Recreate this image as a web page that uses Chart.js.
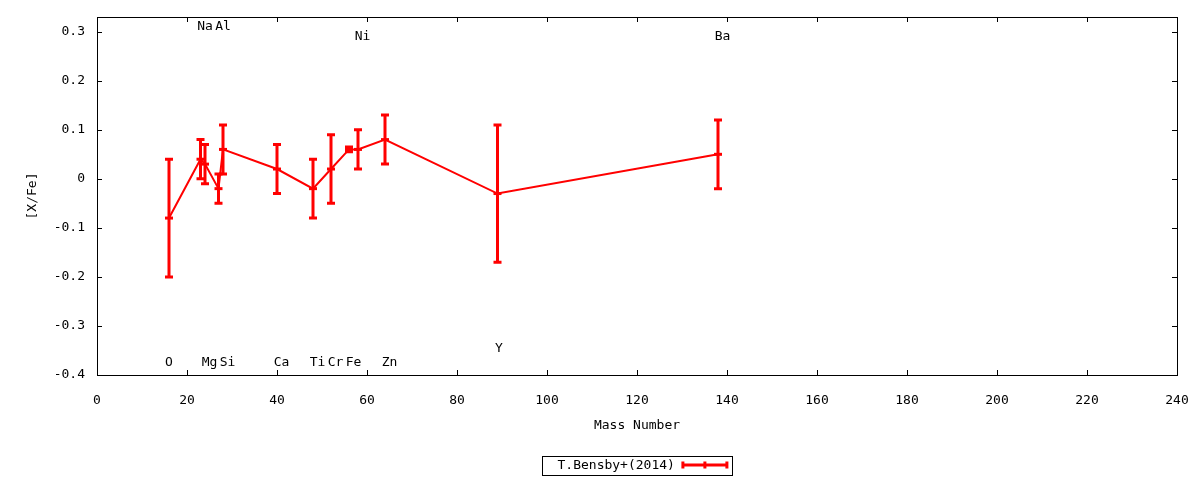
<!DOCTYPE html>
<html>
<head>
<meta charset="utf-8">
<script src="https://cdn.jsdelivr.net/npm/chart.js@4.4.1/dist/chart.umd.min.js"></script>
<style>
  html, body { margin: 0; padding: 0; background: #fff; }
  #wrap { width: 1200px; height: 480px; }
</style>
</head>
<body>
<div id="wrap"><canvas id="chart" width="1200" height="480"></canvas></div>
<script>
// mass number, [X/Fe] and its error for each element
const elements = ["O", "Na", "Mg", "Al", "Si", "Ca", "Ti", "Cr", "Fe", "Ni", "Zn", "Y", "Ba"];
const massNumbers = [16, 23, 24, 27, 28, 40, 48, 52, 56, 58, 64, 89, 138];
const xFe = [-0.08, 0.04, 0.03, -0.02, 0.06, 0.02, -0.02, 0.02, 0.06, 0.06, 0.08, -0.03, 0.05];
const xFeErr = [0.12, 0.04, 0.04, 0.03, 0.05, 0.05, 0.06, 0.07, 0.005, 0.04, 0.05, 0.14, 0.07];

// element name labels (data coordinates, as in the original plot)
const labelX = [16, 24, 25, 28, 29, 41, 49, 53, 57, 59, 65, 89.3, 139];
const labelY = [-0.375, 0.31, -0.375, 0.31, -0.375, -0.375, -0.375, -0.375, -0.375, 0.29, -0.375, -0.347, 0.29];

const xTicks = [0, 20, 40, 60, 80, 100, 120, 140, 160, 180, 200, 220, 240];
const yTicks = [-0.4, -0.3, -0.2, -0.1, 0, 0.1, 0.2, 0.3];

const seriesLabel = "T.Bensby+(2014)";
const RED = "#ff0000";
const FONT = "DejaVu Sans Mono";

// cadre + graduations vers l'intérieur, barres d'erreur, étiquettes, légende
const gnuplotLook = {
  id: "gnuplotLook",
  beforeDatasetsDraw(chart) {
    const { ctx, scales: { x, y } } = chart;
    ctx.save();
    ctx.strokeStyle = RED;
    ctx.lineWidth = 3;
    massNumbers.forEach((m, i) => {
      const px = x.getPixelForValue(m);
      const top = y.getPixelForValue(xFe[i] + xFeErr[i]);
      const bot = y.getPixelForValue(xFe[i] - xFeErr[i]);
      ctx.beginPath();
      ctx.moveTo(px, top);
      ctx.lineTo(px, bot);
      ctx.moveTo(px - 4, top);
      ctx.lineTo(px + 4, top);
      ctx.moveTo(px - 4, bot);
      ctx.lineTo(px + 4, bot);
      ctx.stroke();
    });
    ctx.restore();
  },
  afterDraw(chart) {
    const { ctx, chartArea: a, scales: { x, y } } = chart;
    ctx.save();
    // frame
    ctx.strokeStyle = "#000";
    ctx.lineWidth = 1;
    ctx.strokeRect(Math.round(a.left) + 0.5, Math.round(a.top) + 0.5,
      Math.round(a.right - a.left), Math.round(a.bottom - a.top));
    // ticks, mirrored
    ctx.beginPath();
    xTicks.forEach(v => {
      const px = Math.round(x.getPixelForValue(v)) + 0.5;
      ctx.moveTo(px, a.bottom); ctx.lineTo(px, a.bottom - 5);
      ctx.moveTo(px, a.top); ctx.lineTo(px, a.top + 5);
    });
    yTicks.forEach(v => {
      const py = Math.round(y.getPixelForValue(v)) + 0.5;
      ctx.moveTo(a.left, py); ctx.lineTo(a.left + 5, py);
      ctx.moveTo(a.right, py); ctx.lineTo(a.right - 5, py);
    });
    ctx.stroke();

    // element labels
    ctx.fillStyle = "#000";
    ctx.font = "13px '" + FONT + "'";
    ctx.textAlign = "center";
    ctx.textBaseline = "middle";
    elements.forEach((el, i) => {
      ctx.fillText(el, x.getPixelForValue(labelX[i]), y.getPixelForValue(labelY[i]));
    });

    // legend box
    const textW = ctx.measureText(seriesLabel).width;
    const sampleW = 44;
    const boxW = 15 + textW + 8 + sampleW + 6;
    const cx = (a.left + a.right) / 2;
    const bx = Math.round(cx - boxW / 2) + 0.5;
    const by = 456.5;
    ctx.strokeRect(bx, by, Math.round(boxW), 19);
    ctx.textAlign = "left";
    ctx.fillText(seriesLabel, bx + 15, by + 9.5);
    const sx = bx + 15 + textW + 8;
    const sy = by + 8.5;
    ctx.strokeStyle = RED;
    ctx.lineWidth = 3;
    ctx.beginPath();
    ctx.moveTo(sx, sy); ctx.lineTo(sx + sampleW, sy);
    ctx.moveTo(sx, sy - 3.5); ctx.lineTo(sx, sy + 3.5);
    ctx.moveTo(sx + sampleW, sy - 3.5); ctx.lineTo(sx + sampleW, sy + 3.5);
    ctx.moveTo(sx + sampleW / 2, sy - 3.5); ctx.lineTo(sx + sampleW / 2, sy + 3.5);
    ctx.stroke();
    ctx.restore();
  }
};

new Chart(document.getElementById("chart"), {
  type: "line",
  data: {
    datasets: [{
      label: seriesLabel,
      data: massNumbers.map((m, i) => ({ x: m, y: xFe[i] })),
      borderColor: RED,
      backgroundColor: RED,
      borderWidth: 2,
      tension: 0,
      pointStyle: "line",
      pointRadius: 4,
      pointBorderWidth: 3,
      pointBorderColor: RED,
    }],
  },
  options: {
    responsive: false,
    animation: false,
    layout: { padding: { left: 21, top: 17, right: 23, bottom: 43 } },
    plugins: { legend: { display: false }, tooltip: { enabled: false } },
    scales: {
      x: {
        type: "linear",
        min: 0,
        max: 240,
        afterBuildTicks: s => { s.ticks = xTicks.map(v => ({ value: v })); },
        afterFit: s => { s.height = 62; s.paddingLeft = 0; s.paddingRight = 0; },
        grid: { display: false },
        border: { display: false },
        ticks: { color: "#000", padding: 10, maxRotation: 0, font: { family: FONT, size: 13 } },
        title: { display: true, text: "Mass Number", color: "#000", font: { family: FONT, size: 13 } },
      },
      y: {
        type: "linear",
        min: -0.4,
        max: 0.33,
        afterBuildTicks: s => { s.ticks = yTicks.map(v => ({ value: v })); },
        afterFit: s => { s.width = 76; s.paddingTop = 0; s.paddingBottom = 0; },
        grid: { display: false },
        border: { display: false },
        ticks: {
          color: "#000",
          padding: 4,
          font: { family: FONT, size: 13 },
          callback: v => (Math.abs(v) < 1e-9 ? "0" : v.toFixed(1)),
        },
        title: { display: true, text: "[X/Fe]", color: "#000", font: { family: FONT, size: 13 } },
      },
    },
  },
  plugins: [gnuplotLook],
});
</script>
</body>
</html>
